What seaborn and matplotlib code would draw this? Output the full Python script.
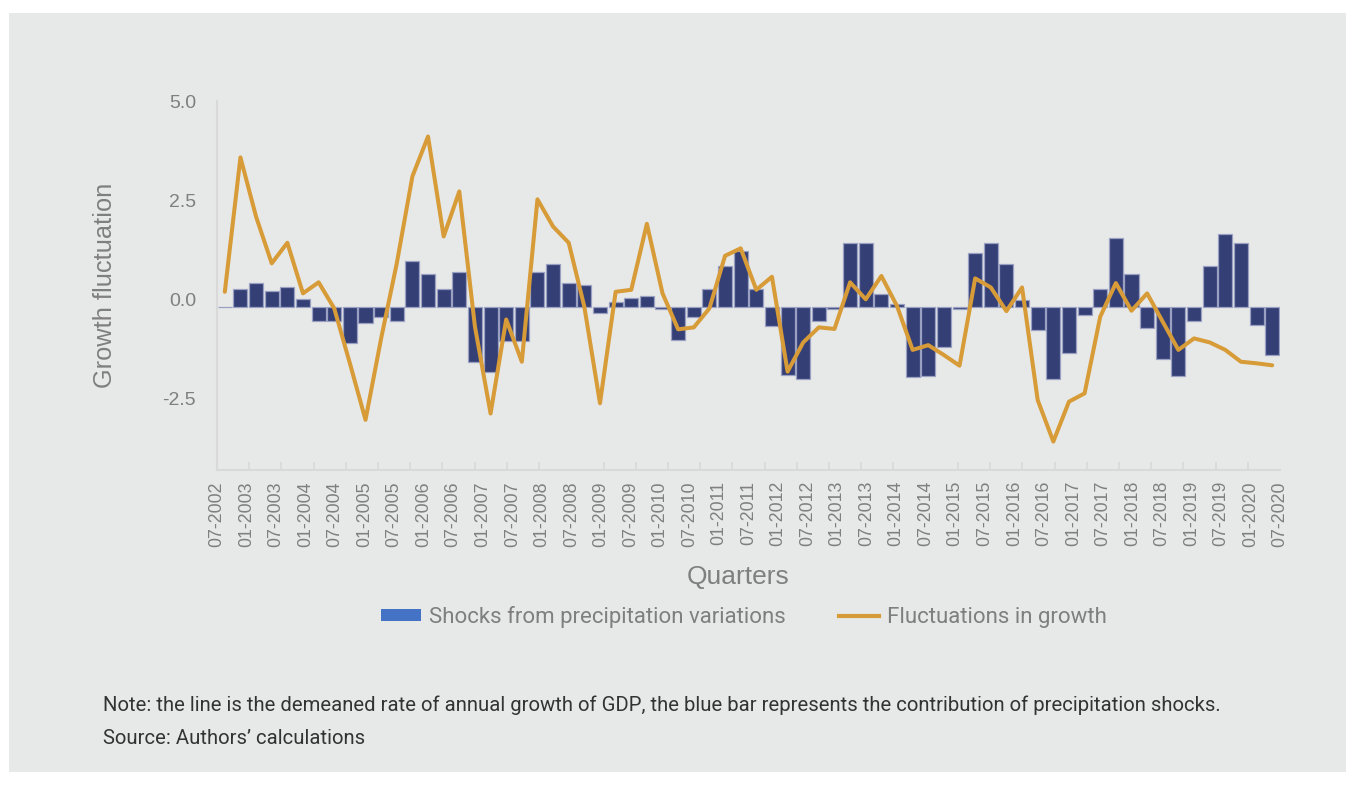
import numpy as np
import pandas as pd
import seaborn as sns
import matplotlib.pyplot as plt
from matplotlib.patches import Patch, Rectangle
from matplotlib.lines import Line2D

# Contribuição dos choques de precipitação (barras), 68 trimestres
choques = [0.0, 0.45, 0.59, 0.40, 0.49, 0.20, -0.35, -0.35, -0.93, -0.41,
           -0.26, -0.35, 1.16, 0.83, 0.45, 0.87, -1.41, -1.65, -0.87, -0.87,
           0.88, 1.08, 0.59, 0.54, -0.15, 0.12, 0.21, 0.26, -0.06, -0.83,
           -0.26, 0.45, 1.02, 1.40, 0.45, -0.49, -1.73, -1.84, -0.35, -0.06,
           1.60, 1.60, 0.31, 0.07, -1.79, -1.75, -1.03, -0.06, 1.35, 1.60,
           1.08, 0.17, -0.59, -1.84, -1.18, -0.21, 0.45, 1.75, 0.83, -0.55,
           -1.33, -1.75, -0.35, 1.02, 1.84, 1.60, -0.46, -1.22]

# Flutuação do crescimento (linha)
flutuacao = [0.19, 3.59, 2.09, 0.91, 1.43, 0.15, 0.43, -0.23, -1.62, -3.05,
             -0.99, 0.91, 3.11, 4.12, 1.59, 2.73, -0.69, -2.89, -0.51, -1.58,
             2.53, 1.84, 1.43, -0.19, -2.63, 0.19, 0.24, 1.91, 0.15, -0.76,
             -0.71, -0.23, 1.10, 1.29, 0.24, 0.57, -1.83, -1.09, -0.71, -0.75,
             0.43, 0.00, 0.59, -0.17, -1.28, -1.16, -1.41, -1.68, 0.53, 0.30,
             -0.30, 0.30, -2.55, -3.60, -2.59, -2.38, -0.44, 0.41, -0.29, 0.15,
             -0.57, -1.28, -0.99, -1.09, -1.28, -1.58, -1.62, -1.67]

# Rótulos do eixo x
anos = list(range(2002, 2021))
rotulos = []
for ano in anos:
    for mes in ['01', '07']:
        if (ano == 2002 and mes == '01'):
            continue
        rotulos.append(f'{mes}-{ano}')

cor_barra = '#343f76'
cor_borda = '#9aa0c2'
cor_linha = '#d79b38'
cor_legenda_barra = '#4472c4'
cor_fundo = '#e7e9e8'
cinza = '#7f7f7f'

plt.rcParams['font.family'] = ['Liberation Sans', 'DejaVu Sans']

dados = pd.DataFrame({'trimestre': range(len(choques)),
                      'choque': choques,
                      'flutuacao': flutuacao})
n = len(dados)

fig = plt.figure(figsize=(13.54, 7.85), dpi=100, facecolor='white')
fig.patches.append(Rectangle((9 / 1354, 1 - 772 / 785), 1337 / 1354, 759 / 785,
                             transform=fig.transFigure, facecolor=cor_fundo,
                             edgecolor='none', zorder=-10))

ax = fig.add_axes([217 / 1354, 1 - 470 / 785, 1063 / 1354, 369.3 / 785])
ax_barra = ax.twinx()
ax_barra.set_zorder(ax.get_zorder() - 1)
ax.patch.set_visible(False)
ax_barra.patch.set_visible(False)

# Barras (eixo secundário oculto, zero ligeiramente abaixo)
sns.barplot(data=dados, x='trimestre', y='choque', ax=ax_barra, color=cor_barra,
            saturation=1, width=0.9, edgecolor=cor_borda, linewidth=0.9)

# Linha
sns.lineplot(data=dados, x='trimestre', y='flutuacao', ax=ax, color=cor_linha,
             linewidth=2.9, solid_joinstyle='round', solid_capstyle='round')

ppu = 39.52
ax.set_ylim(-(470 - 299.3) / ppu, (299.3 - 100.7) / ppu)
ax_barra.set_ylim(-(470 - 306.7) / ppu, (306.7 - 100.7) / ppu)
ax.set_xlim(-0.5, n - 0.5)

ax.set_yticks([-2.5, 0.0, 2.5, 5.0])
ax.set_yticklabels(['-2.5', '0.0', '2.5', '5.0'])
ax.tick_params(axis='y', length=0, pad=15, labelsize=14, labelcolor=cinza)
ax_barra.set_yticks([])
ax_barra.set_ylabel('')

pos_rotulos = np.linspace(-0.5, n - 0.5, len(rotulos))
ax.set_xticks(pos_rotulos)
ax.set_xticklabels(rotulos, rotation=90)
ax.tick_params(axis='x', length=0, pad=8, labelsize=12.8, labelcolor=cinza)
ax.set_xticks(np.linspace(-0.5, n - 0.5, 34), minor=True)
ax.tick_params(axis='x', which='minor', direction='in', length=6, color='#d9d9d9', width=1.2)
ax_barra.tick_params(axis='x', length=0, labelbottom=False)
ax_barra.set_xlabel('')

for a in (ax, ax_barra):
    for lado in ['top', 'right', 'left', 'bottom']:
        a.spines[lado].set_visible(False)
for lado in ['left', 'bottom']:
    ax.spines[lado].set_visible(True)
    ax.spines[lado].set_color('#d9d9d9')
    ax.spines[lado].set_linewidth(1.5)

ax.set_ylabel('Growth fluctuation', fontsize=18.3, color=cinza, labelpad=33)
ax.set_xlabel('')
fig.text(738 / 1354, 1 - 577 / 785, 'Quarters', fontsize=19, color=cinza,
         ha='center', va='center')

fonte_estreita = ['Roboto', 'DejaVu Sans']
alcas = [Patch(facecolor=cor_legenda_barra, edgecolor='none'),
         Line2D([0], [0], color=cor_linha, linewidth=3)]
leg = fig.legend(alcas, ['Shocks from precipitation variations', 'Fluctuations in growth'],
                 loc='center', bbox_to_anchor=(744 / 1354, 1 - 617 / 785), ncol=2,
                 frameon=False, handlelength=1.8, handleheight=0.45, handletextpad=0.35,
                 columnspacing=2.4, prop={'family': fonte_estreita, 'size': 16})
for t in leg.get_texts():
    t.set_color(cinza)

fig.text(103 / 1354, 1 - 705 / 785,
         'Note: the line is the demeaned rate of annual growth of GDP, the blue bar '
         'represents the contribution of precipitation shocks.',
         fontsize=14.6, color='#333333', va='center', family=fonte_estreita)
fig.text(103 / 1354, 1 - 739 / 785, 'Source: Authors\u2019 calculations',
         fontsize=14.6, color='#333333', va='center', family=fonte_estreita)

fig.savefig('out.png', dpi=100, facecolor='white')
